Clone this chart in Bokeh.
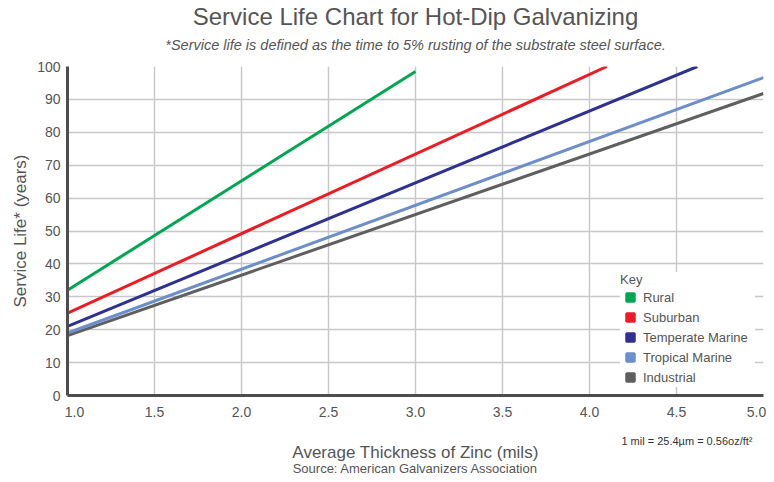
import numpy as np
from bokeh.plotting import figure
from bokeh.models import (Title, Legend, LegendItem, FixedTicker, LinearAxis,
                          Range1d, NumeralTickFormatter, ColumnDataSource)
from bokeh.embed import file_html
from bokeh.resources import INLINE

# ---------------- data ----------------
series_names = ["Rural", "Suburban", "Temperate Marine", "Tropical Marine", "Industrial"]
series_colors = ["#00a651", "#ed1c24", "#2e3192", "#6c8ecb", "#5f5f5f"]
thickness_start = [1.0, 1.0, 1.0, 1.0, 1.0]
thickness_end = [3.0, 4.10, 4.62, 5.0, 5.0]
life_start = [32.0, 25.0, 21.0, 19.0, 18.2]
life_end = [98.5, 100.0, 100.0, 96.6, 91.8]

x_ticks = [1.0, 1.5, 2.0, 2.5, 3.0, 3.5, 4.0, 4.5, 5.0]
x_tick_labels = ["1.0", "1.5", "2.0", "2.5", "3.0", "3.5", "4.0", "4.5", "5.0"]
y_ticks = [0, 10, 20, 30, 40, 50, 60, 70, 80, 90, 100]

title_text = "Service Life Chart for Hot-Dip Galvanizing"
subtitle_text = "*Service life is defined as the time to 5% rusting of the substrate steel surface."
x_label = "Average Thickness of Zinc (mils)"
y_label = "Service Life* (years)"
source_text = "Source: American Galvanizers Association"
note_text = "1 mil = 25.4\u00b5m = 0.56oz/ft\u00b2"

# ---------------- styling ----------------
FONT = "Liberation Sans"
TXT = "#555555"
END_LABEL_SHIFT = 0.04    # pull the first/last tick labels inside the plot width
NOTE_POSITION = 4.56      # horizontal centre of the unit note

p = figure(width=766, height=474, x_range=Range1d(1, 5), y_range=Range1d(0, 100),
           output_backend="svg", toolbar_location=None, title=None,
           min_border_left=67, min_border_right=3, min_border_top=66, min_border_bottom=79)
p.outline_line_color = None
p.background_fill_color = "white"

# grids
p.xgrid.ticker = FixedTicker(ticks=x_ticks)
p.ygrid.ticker = FixedTicker(ticks=y_ticks)
for g in (p.xgrid, p.ygrid):
    g.grid_line_color = "#c8c8c8"
    g.grid_line_width = 1.5

# axes
label_ticks = [x_ticks[0] + END_LABEL_SHIFT] + x_ticks[1:-1] + [x_ticks[-1] - END_LABEL_SHIFT]
p.xaxis.ticker = FixedTicker(ticks=label_ticks)
p.xaxis.formatter = NumeralTickFormatter(format="0.0")
p.xaxis.major_label_overrides = {t: l for t, l in zip(label_ticks, x_tick_labels)}
p.yaxis.ticker = FixedTicker(ticks=y_ticks)
for ax in (p.xaxis, p.yaxis):
    ax.axis_line_color = "#4d4d4d"
    ax.axis_line_width = 3
    ax.major_tick_line_color = None
    ax.minor_tick_line_color = None
    ax.major_tick_out = 0
    ax.major_tick_in = 0
    ax.major_label_text_font = FONT
    ax.major_label_text_font_size = "14px"
    ax.major_label_text_color = TXT
    ax.axis_label_text_font = FONT
    ax.axis_label_text_font_size = "17px"
    ax.axis_label_text_font_style = "normal"
    ax.axis_label_text_color = TXT
p.xaxis.major_label_standoff = 11
p.yaxis.major_label_standoff = 7
p.yaxis.axis_label = y_label
p.yaxis.axis_label_standoff = 4
p.xaxis.bounds = (x_ticks[0], x_ticks[-1])

# second bottom axis carrying the unit note and the x-axis title
ax2 = LinearAxis(ticker=FixedTicker(ticks=[NOTE_POSITION]),
                 major_label_overrides={NOTE_POSITION: note_text},
                 axis_line_color=None, major_tick_line_color=None, minor_tick_line_color=None,
                 major_tick_out=0, major_tick_in=0, major_label_standoff=15,
                 major_label_text_font=FONT, major_label_text_font_size="11px",
                 major_label_text_color="#333333",
                 axis_label=x_label, axis_label_standoff=-7,
                 axis_label_text_font=FONT, axis_label_text_font_size="17px",
                 axis_label_text_font_style="normal", axis_label_text_color=TXT)
p.add_layout(ax2, "below")

# lines
order = [4, 3, 2, 1, 0]
for i in order:
    src = ColumnDataSource(dict(x=[thickness_start[i], thickness_end[i]],
                                y=[life_start[i], life_end[i]]))
    p.line("x", "y", source=src, line_color=series_colors[i], line_width=3)

# legend with square swatches
items = []
for name, col in zip(series_names, series_colors):
    r = p.scatter(x=np.array([np.nan]), y=np.array([np.nan]), marker="square", size=11,
                  fill_color=col, line_color=col, line_width=2.5)
    items.append(LegendItem(label=name, renderers=[r]))
legend = Legend(items=items, location="bottom_right", title="Key",
                background_fill_color="white", background_fill_alpha=1.0,
                border_line_color=None, label_text_font=FONT, label_text_font_size="13px",
                label_text_color=TXT, title_text_font=FONT, title_text_font_size="13px",
                title_text_font_style="normal", title_text_color=TXT,
                glyph_width=20, glyph_height=20, label_height=20, label_width=112, spacing=0,
                padding=8, margin=8, title_standoff=0, label_standoff=3)
p.add_layout(legend)

# titles (above: spacer closest to the frame, then subtitle, then title)
p.add_layout(Title(text=source_text, align="center", text_font=FONT, text_font_size="13px",
                   text_font_style="normal", text_color=TXT, standoff=-12), "below")
p.add_layout(Title(text=" ", align="center", text_font=FONT, text_font_size="4.5px",
                   text_color="white", standoff=0), "above")
p.add_layout(Title(text=subtitle_text, align="center", text_font=FONT, text_font_size="14.5px",
                   text_font_style="italic", text_color=TXT, standoff=10,
                   vertical_align="top"), "above")
p.add_layout(Title(text=title_text, align="center", text_font=FONT, text_font_size="24px",
                   text_font_style="normal", text_color=TXT, standoff=0,
                   vertical_align="top"), "above")

open("out.html", "w").write(file_html(p, INLINE))
